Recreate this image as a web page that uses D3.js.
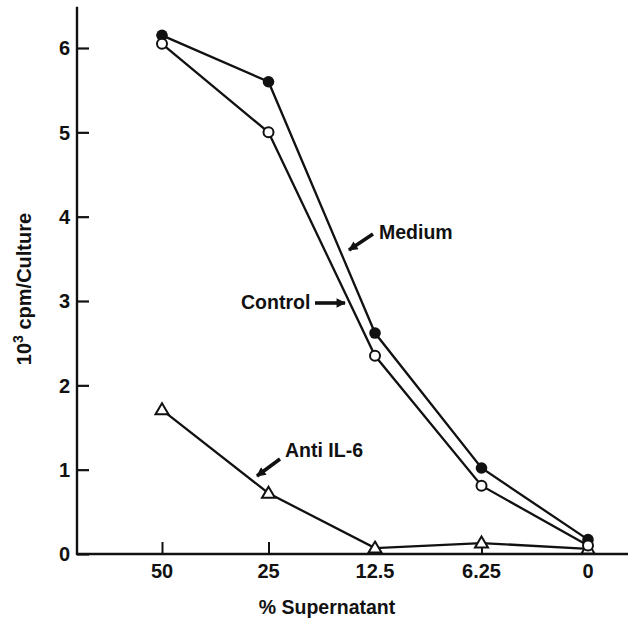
<!DOCTYPE html>
<html lang="en">
<head>
	<meta charset="utf-8">
	<title>cpm per culture</title>
	<style>
		html, body { margin: 0; padding: 0; background: #fff; }
		svg { display: block; }
		text { font-family: "Liberation Sans", Arial, sans-serif; fill: #111; }
	</style>
</head>
<body>
	<script src="https://cdn.jsdelivr.net/npm/d3@7"></script>
	<script>

		const categories = ["50", "25", "12.5", "6.25", "0"];
		const medium = [6.15, 5.6, 2.62, 1.02, 0.17];
		const control = [6.05, 5.0, 2.35, 0.81, 0.1];
		const antiIL6 = [1.71, 0.72, 0.07, 0.13, 0.06];
		const yTicks = [0, 1, 2, 3, 4, 5, 6];

		const width = 628, height = 621;

		const svg = d3.select("body").append("svg")
			.attr("width", width)
			.attr("height", height);

		const x = d3.scalePoint()
			.domain(categories)
			.range([162, 588]);

		const y = d3.scaleLinear()
			.domain([0, 6])
			.range([554, 48]);

		const axisLeft = 77;
		const stroke = "#111";

		// y axis
		const gy = svg.append("g")
			.attr("transform", `translate(${axisLeft},0)`)
			.call(d3.axisRight(y).tickValues(yTicks).tickSize(12).tickFormat(""));
		gy.select(".domain").remove();
		gy.selectAll("line").attr("stroke", stroke).attr("stroke-width", 2.2);
		gy.append("line")
			.attr("x1", 0).attr("x2", 0)
			.attr("y1", y(6.49)).attr("y2", y(0) + 1)
			.attr("stroke", stroke).attr("stroke-width", 2.4);
		svg.append("g").selectAll("text")
			.data(yTicks)
			.join("text")
			.attr("x", 70)
			.attr("y", (d) => y(d))
			.attr("dy", "0.36em")
			.attr("text-anchor", "end")
			.attr("font-size", 20)
			.attr("font-weight", "bold")
			.text((d) => d);

		// x axis
		const gx = svg.append("g")
			.attr("transform", `translate(0,${y(0)})`)
			.call(d3.axisTop(x).tickSize(12).tickFormat(""));
		gx.select(".domain").remove();
		gx.selectAll("line").attr("stroke", stroke).attr("stroke-width", 2);
		gx.append("line")
			.attr("x1", axisLeft - 1).attr("x2", width)
			.attr("y1", 0).attr("y2", 0)
			.attr("stroke", stroke).attr("stroke-width", 2.4);
		svg.append("g").selectAll("text")
			.data(categories)
			.join("text")
			.attr("x", (d) => x(d))
			.attr("y", 578)
			.attr("text-anchor", "middle")
			.attr("font-size", 20)
			.attr("font-weight", "bold")
			.text((d) => d);

		svg.append("text")
			.attr("x", 327)
			.attr("y", 614)
			.attr("text-anchor", "middle")
			.attr("font-size", 19.5)
			.attr("font-weight", "bold")
			.text("% Supernatant");

		const yl = svg.append("text")
			.attr("transform", "translate(31,289) rotate(-90)")
			.attr("text-anchor", "middle")
			.attr("font-size", 20)
			.attr("font-weight", "bold");
		yl.append("tspan").text("10");
		yl.append("tspan").attr("font-size", 14).attr("dy", "-0.6em").text("3");
		yl.append("tspan").attr("dy", "0.42em").text(" cpm/Culture");

		// lines
		const line = d3.line()
			.x((d, i) => x(categories[i]))
			.y((d) => y(d));

		[antiIL6, control, medium].forEach((s) => {
			svg.append("path")
				.datum(s)
				.attr("d", line)
				.attr("fill", "none")
				.attr("stroke", stroke)
				.attr("stroke-width", 2.3);
		});

		// markers
		svg.append("g").selectAll("path")
			.data(antiIL6)
			.join("path")
			.attr("transform", (d, i) => `translate(${x(categories[i])},${y(d)})`)
			.attr("d", "M0,-6.5L6.5,4.5L-6.5,4.5Z")
			.attr("fill", "#fff")
			.attr("stroke", stroke)
			.attr("stroke-width", 2);

		svg.append("g").selectAll("circle")
			.data(medium)
			.join("circle")
			.attr("cx", (d, i) => x(categories[i]))
			.attr("cy", (d) => y(d))
			.attr("r", 5.8)
			.attr("fill", stroke);

		svg.append("g").selectAll("circle")
			.data(control)
			.join("circle")
			.attr("cx", (d, i) => x(categories[i]))
			.attr("cy", (d) => y(d))
			.attr("r", 5)
			.attr("fill", "#fff")
			.attr("stroke", stroke)
			.attr("stroke-width", 2);

		// annotations
		svg.append("defs").append("marker")
			.attr("id", "head")
			.attr("viewBox", "0 0 10 10")
			.attr("refX", 9)
			.attr("refY", 5)
			.attr("markerWidth", 3.6)
			.attr("markerHeight", 2.6)
			.attr("markerUnits", "strokeWidth")
			.attr("orient", "auto")
			.append("path")
			.attr("d", "M0,0L10,5L0,10Z")
			.attr("fill", stroke);

		const notes = [
			{ label: "Medium", tx: 379, ty: 239, from: [373, 234], to: [349, 250] },
			{ label: "Control", tx: 241, ty: 309, from: [315, 303], to: [345, 303] },
			{ label: "Anti IL-6", tx: 285, ty: 457, from: [280, 459], to: [257, 476] }
		];

		notes.forEach((n) => {
			svg.append("text")
				.attr("x", n.tx)
				.attr("y", n.ty)
				.attr("font-size", 19.5)
				.attr("font-weight", "bold")
				.text(n.label);
			svg.append("line")
				.attr("x1", n.from[0]).attr("y1", n.from[1])
				.attr("x2", n.to[0]).attr("y2", n.to[1])
				.attr("stroke", stroke)
				.attr("stroke-width", 3.6)
				.attr("marker-end", "url(#head)");
		});

	</script>
</body>
</html>
